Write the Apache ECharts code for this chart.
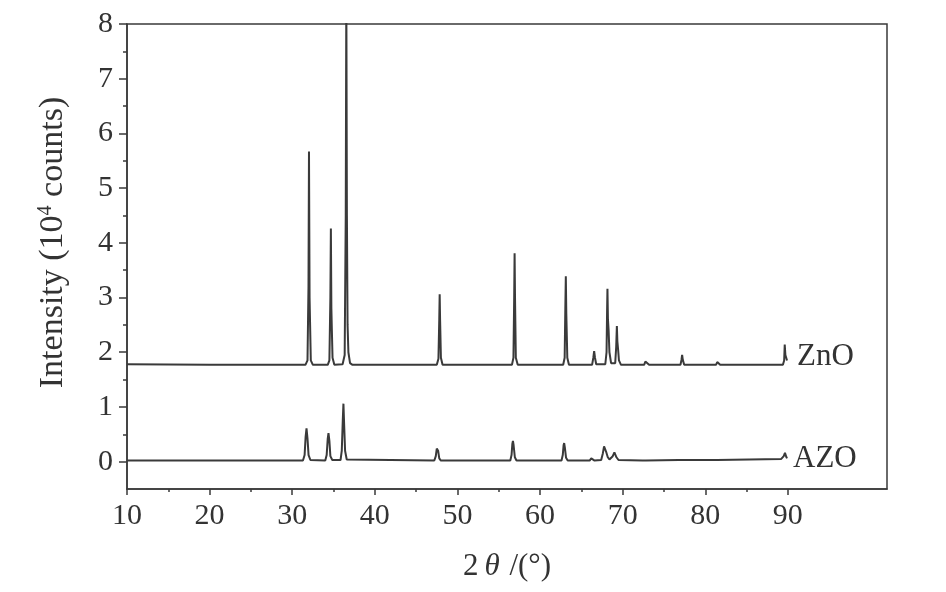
<!DOCTYPE html>
<html>
<head>
<meta charset="utf-8">
<script src="https://cdn.jsdelivr.net/npm/echarts@6/dist/echarts.min.js"></script>
<style>html,body{margin:0;padding:0;background:#fff}#c{width:946px;height:592px}</style>
</head>
<body>
<div id="c"></div>
<script>
// ---- data (2θ in degrees, intensity in 10^4 counts) ----
const znoX = [10, 20, 31.6, 31.85, 31.97, 32.03, 32.1, 32.25, 32.5,
  34.3, 34.5, 34.62, 34.68, 34.74, 34.8, 34.88, 35.1,
  36.1, 36.35, 36.48, 36.55, 36.62, 36.7, 36.8, 37.0, 37.3,
  47.5, 47.7, 47.8, 47.85, 47.9, 48.0, 48.2,
  56.6, 56.78, 56.87, 56.92, 56.97, 57.07, 57.3,
  62.8, 62.98, 63.06, 63.12, 63.18, 63.3, 63.5,
  66.3, 66.45, 66.55, 66.65, 66.8,
  67.9, 68.05, 68.12, 68.16, 68.22, 68.3, 68.4, 68.6, 69.1, 69.22, 69.3, 69.36, 69.45, 69.55, 69.8,
  72.6, 72.75, 72.85, 72.95, 73.2,
  77.0, 77.12, 77.2, 77.28, 77.45,
  81.3, 81.45, 81.5, 81.58, 81.8,
  89.4, 89.55, 89.62, 89.7, 89.8, 89.9];
const znoY = [1.78, 1.77, 1.77, 1.85, 3.2, 5.67, 3.0, 1.85, 1.77,
  1.77, 1.85, 3.0, 4.26, 2.8, 2.4, 1.9, 1.77,
  1.78, 1.95, 4.5, 8.6, 4.5, 2.5, 2.0, 1.8, 1.77,
  1.77, 1.88, 2.6, 3.06, 2.6, 1.9, 1.77,
  1.77, 1.9, 3.0, 3.81, 3.0, 1.9, 1.77,
  1.77, 1.9, 2.8, 3.39, 2.7, 1.9, 1.77,
  1.77, 1.9, 2.02, 1.9, 1.78,
  1.78, 2.0, 2.8, 3.16, 2.6, 2.4, 2.0, 1.8, 1.8, 2.1, 2.48, 2.2, 2.05, 1.85, 1.77,
  1.77, 1.83, 1.85, 1.8, 1.77,
  1.77, 1.86, 1.95, 1.86, 1.77,
  1.77, 1.82, 1.85, 1.8, 1.77,
  1.77, 1.85, 2.14, 1.95, 1.9, 1.85];

const azoX = [10, 20, 31.3, 31.5, 31.62, 31.73, 31.85, 31.98, 32.2,
  34.0, 34.17, 34.3, 34.39, 34.5, 34.62, 34.85,
  35.85, 36.0, 36.12, 36.2, 36.28, 36.4, 36.6,
  47.2, 47.38, 47.5, 47.57, 47.66, 47.8, 48.0,
  56.4, 56.55, 56.65, 56.72, 56.8, 56.95, 57.15,
  62.6, 62.75, 62.85, 62.92, 63.0, 63.15, 63.35,
  66.0, 66.2, 66.3, 66.4, 66.6,
  67.4, 67.6, 67.75, 67.85, 68.0, 68.2, 68.4, 68.8, 69.0, 69.1, 69.25, 69.5,
  72.4, 72.6, 72.8,
  76.8, 77.0, 77.2,
  81.0, 81.2, 81.4,
  89.2, 89.5, 89.65, 89.8, 89.9];
const azoY = [0.02, 0.02, 0.02, 0.12, 0.45, 0.61, 0.42, 0.12, 0.03,
  0.02, 0.12, 0.42, 0.52, 0.38, 0.1, 0.03,
  0.03, 0.2, 0.75, 1.06, 0.7, 0.2, 0.04,
  0.02, 0.1, 0.24, 0.27, 0.2, 0.06, 0.02,
  0.02, 0.12, 0.33, 0.38, 0.3, 0.08, 0.02,
  0.02, 0.12, 0.3, 0.34, 0.26, 0.07, 0.02,
  0.02, 0.06, 0.08, 0.05, 0.02,
  0.03, 0.15, 0.28, 0.27, 0.18, 0.08, 0.04, 0.1, 0.17, 0.17, 0.08, 0.03,
  0.02, 0.04, 0.02,
  0.03, 0.06, 0.03,
  0.03, 0.05, 0.03,
  0.05, 0.1, 0.16, 0.09, 0.06];

const seriesNames = ['ZnO', 'AZO'];
const xTicks = [10, 20, 30, 40, 50, 60, 70, 80, 90];
const xMinorTicks = [15, 25, 35, 45, 55, 65, 75, 85];
const yTicks = [0, 1, 2, 3, 4, 5, 6, 7, 8];
const yMinorTicks = [0.5, 1.5, 2.5, 3.5, 4.5, 5.5, 6.5, 7.5];

// ---- chart ----
const FONT = '"Liberation Serif", "Times New Roman", serif';
const INK = '#3a3a3a';
const zip = (xs, ys) => xs.map((x, i) => [x, ys[i]]);

const chart = echarts.init(document.getElementById('c'), null, {renderer: 'canvas'});
chart.setOption({
  animation: false,
  backgroundColor: '#fff',
  grid: {left: 127, right: 59, top: 24, bottom: 103, show: true, borderColor: INK, borderWidth: 1.5, containLabel: false},
  xAxis: [{
    type: 'value', min: 10, max: 102, interval: 10,
    name: '{n|2}{i|θ}{n| /(°)}', nameLocation: 'middle', nameGap: 62,
    nameTextStyle: {rich: {
      n: {fontFamily: FONT, fontSize: 31, color: '#333'},
      i: {fontFamily: FONT, fontSize: 31, fontStyle: 'italic', color: '#333', padding: [0, 2, 0, 6]}
    }},
    axisLine: {show: true, onZero: false, lineStyle: {color: INK, width: 1.5}},
    axisTick: {show: true, length: 6, lineStyle: {color: INK, width: 1.5}, customValues: xTicks},
    axisLabel: {customValues: xTicks, fontFamily: FONT, fontSize: 30, color: '#333', margin: 12},
    splitLine: {show: false}
  }, {
    type: 'value', min: 10, max: 102, interval: 5, position: 'bottom', offset: 0,
    axisLine: {show: false, onZero: false},
    axisTick: {show: true, length: 3, lineStyle: {color: INK, width: 1.5}, customValues: xMinorTicks},
    axisLabel: {show: false},
    splitLine: {show: false}
  }],
  yAxis: [{
    type: 'value', min: -0.5, max: 8, interval: 0.5,
    name: '{a|Intensity (10}{s|4}{a| counts)}', nameLocation: 'middle', nameGap: 57,
    nameTextStyle: {padding: [0, 0, 0, 28], rich: {
      a: {fontFamily: FONT, fontSize: 34, color: '#333'},
      s: {fontFamily: FONT, fontSize: 20, color: '#333', verticalAlign: 'top', padding: [0, 0, 14, 0]}
    }},
    axisLine: {show: true, onZero: false, lineStyle: {color: INK, width: 1.5}},
    axisTick: {show: true, length: 8, lineStyle: {color: INK, width: 1.5}, customValues: yTicks},
    axisLabel: {customValues: yTicks, fontFamily: FONT, fontSize: 30, color: '#333', margin: 14},
    splitLine: {show: false}
  }, {
    type: 'value', min: -0.5, max: 8, interval: 0.5, position: 'left', offset: 0,
    axisLine: {show: false, onZero: false},
    axisTick: {show: true, length: 4, lineStyle: {color: INK, width: 1.5}, customValues: yMinorTicks},
    axisLabel: {show: false},
    splitLine: {show: false}
  }],
  series: [{
    name: seriesNames[0], type: 'line', xAxisIndex: 0, yAxisIndex: 0,
    data: zip(znoX, znoY), showSymbol: false, symbol: 'none', clip: true,
    lineStyle: {color: INK, width: 2}, itemStyle: {color: INK},
    endLabel: {show: true, formatter: seriesNames[0], fontFamily: FONT, fontSize: 31, color: '#333', distance: 10, offset: [0, -4]}
  }, {
    name: seriesNames[1], type: 'line', xAxisIndex: 0, yAxisIndex: 0,
    data: zip(azoX, azoY), showSymbol: false, symbol: 'none', clip: true,
    lineStyle: {color: INK, width: 2}, itemStyle: {color: INK},
    endLabel: {show: true, formatter: seriesNames[1], fontFamily: FONT, fontSize: 31, color: '#333', distance: 6, offset: [0, 0]}
  }]
});
</script>
</body>
</html>
